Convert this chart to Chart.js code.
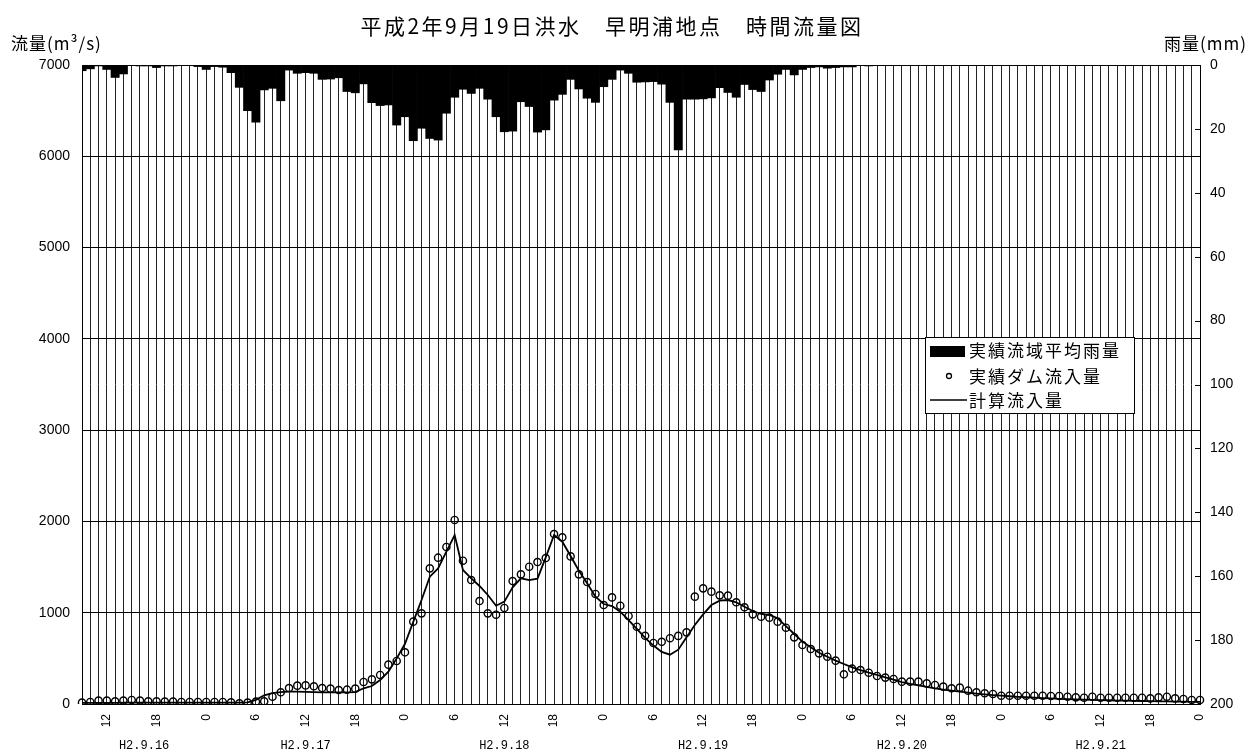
<!DOCTYPE html>
<html>
<head>
<meta charset="utf-8">
<script src="https://cdn.jsdelivr.net/npm/chart.js@4/dist/chart.umd.min.js"></script>
<style>
  html, body { margin: 0; padding: 0; background: #fff; }
</style>
</head>
<body>
<canvas id="chart" width="1248" height="756"></canvas>
<script>
// 平成2年9月19日洪水 早明浦地点 時間流量図
// hourly data, 9/16 9:00 -> 9/22 0:00 (136 points)

const startHour = 9;
const hourLabels = [];
for (let i = 0; i < 136; i++) hourLabels.push((startHour + i) % 24);

const dateLabels = ['H2.9.16', 'H2.9.17', 'H2.9.18', 'H2.9.19', 'H2.9.20', 'H2.9.21'];

// 実績流域平均雨量 (mm)
const rain = [
  1.8, 1.2, 0.3, 1.4, 3.9, 2.8, 0, 0.3, 0.3, 0.8,
  0.3, 0.3, 0, 0, 0.5, 1.4, 0.5, 0.7, 2.4, 7.0,
  14.3, 17.9, 7.8, 7.3, 11.2, 1.6, 2.6, 2.4, 2.6, 4.5,
  4.4, 4.0, 8.3, 8.7, 5.9, 11.8, 12.7, 12.5, 18.8, 16.2,
  23.7, 19.8, 23.0, 23.5, 15.1, 10.1, 7.6, 8.9, 7.3, 10.7,
  16.2, 20.9, 20.7, 11.5, 13.0, 21.0, 20.3, 11.0, 9.2, 4.5,
  7.5, 10.4, 11.7, 6.8, 4.5, 1.6, 2.6, 5.4, 5.3, 5.2,
  6.0, 11.7, 26.6, 10.7, 10.7, 10.6, 10.3, 7.1, 8.6, 10.1,
  6.1, 7.7, 8.3, 4.7, 2.9, 1.4, 3.1, 1.4, 0.8, 0.6,
  1.0, 0.8, 0.6, 0.6, 0, 0.3, 0, 0, 0, 0,
  0, 0, 0, 0, 0, 0, 0, 0, 0, 0,
  0, 0, 0, 0, 0, 0, 0, 0, 0, 0,
  0, 0, 0, 0, 0, 0, 0, 0, 0, 0,
  0, 0, 0, 0, 0, 0
];

// 実績ダム流入量 (m3/s)
const obsFlow = [
  15, 22, 37, 37, 29, 37, 44, 37, 29, 29,
  26, 26, 22, 22, 22, 22, 22, 22, 18, 7,
  15, 26, 29, 80, 128, 175, 201, 204, 194, 175,
  168, 153, 157, 168, 241, 270, 318, 431, 471, 566,
  902, 993, 1486, 1603, 1720, 2016, 1570, 1358, 1128, 993,
  978, 1052, 1347, 1420, 1504, 1555, 1599, 1862, 1826, 1617,
  1420, 1336, 1205, 1084, 1168, 1077, 964, 847, 747, 668,
  681, 721, 746, 785, 1176, 1267, 1231, 1190, 1187, 1114,
  1059, 982, 956, 946, 902, 836, 730, 646, 602, 555,
  518, 475, 325, 387, 372, 343, 307, 289, 274, 245,
  245, 245, 226, 208, 190, 172, 179, 146, 128, 117,
  110, 91, 91, 91, 91, 91, 91, 88, 88, 80,
  73, 69, 80, 69, 69, 69, 69, 69, 69, 62,
  73, 80, 62, 55, 44, 44
];

// 計算流入量 (m3/s)
const calcFlow = [
  12, 12, 13, 13, 13, 14, 14, 14, 14, 14,
  14, 14, 14, 14, 14, 14, 14, 14, 14, 15,
  18, 45, 95, 120, 130, 135, 135, 132, 130, 128,
  128, 128, 128, 130, 172, 197, 263, 354, 500, 660,
  900, 1139, 1395, 1486, 1669, 1851, 1468, 1377, 1293, 1194,
  1077, 1121, 1278, 1377, 1358, 1373, 1607, 1851, 1778, 1621,
  1460, 1322, 1176, 1095, 1073, 1011, 920, 822, 725, 640,
  570, 540, 595, 730, 865, 982, 1084, 1132, 1139, 1114,
  1066, 1019, 986, 975, 939, 854, 767, 683, 621, 562,
  518, 475, 438, 402, 372, 343, 318, 292, 268, 240,
  220, 203, 187, 172, 158, 146, 135, 124, 114, 106,
  98, 91, 85, 79, 74, 69, 65, 61, 57, 54,
  51, 48, 45, 43, 41, 38, 36, 34, 33, 31,
  29, 28, 26, 25, 24, 23
];

const titleText = '平成2年9月19日洪水　早明浦地点　時間流量図';
const leftUnit = '流量(m³/s)';
const rightUnit = '雨量(mm)';

const cjk = '"Noto Sans CJK JP", "Noto Sans", sans-serif';

const decor = {
  id: 'decor',
  afterDraw(chart) {
    const c = chart.ctx;
    const area = chart.chartArea;
    const x = chart.scales.x;
    const y2 = chart.scales.y2;
    c.save();

    // title + unit labels
    c.fillStyle = '#000';
    c.textBaseline = 'middle';
    c.font = '21px ' + cjk;
    c.letterSpacing = '2.5px';
    c.textAlign = 'center';
    c.fillText(titleText, 612, 26);
    c.font = '17px ' + cjk;
    c.letterSpacing = '1px';
    c.textAlign = 'left';
    c.fillText(leftUnit, 11, 44);
    c.textAlign = 'right';
    c.fillText(rightUnit, 1247, 44);
    c.letterSpacing = '0px';

    // inward ticks on the rain axis
    c.strokeStyle = '#000';
    c.lineWidth = 1;
    for (let v = 0; v <= 200; v += 20) {
      const py = Math.round(y2.getPixelForValue(v)) + 0.5;
      c.beginPath();
      c.moveTo(area.right - 5, py);
      c.lineTo(area.right, py);
      c.stroke();
    }

    // date labels under the hour ticks, centred on each day's visible span
    c.font = '12px "Liberation Mono", monospace';
    c.textAlign = 'center';
    const dayStarts = [0];
    hourLabels.forEach((h, i) => { if (h === 0 && i > 0) dayStarts.push(i); });
    dateLabels.forEach((lab, d) => {
      const a = dayStarts[d], b = dayStarts[d + 1] !== undefined ? dayStarts[d + 1] : hourLabels.length - 1;
      const px = (x.getPixelForValue(a) + x.getPixelForValue(b)) / 2;
      c.fillText(lab, px, 746);
    });

    // legend
    const lx = 925, ly = 337, lw = 209, lh = 76;
    c.fillStyle = '#fff';
    c.fillRect(lx, ly, lw, lh);
    c.strokeStyle = '#000';
    c.lineWidth = 1;
    c.strokeRect(lx + 0.5, ly + 0.5, lw, lh);
    c.fillStyle = '#000';
    c.fillRect(930, 346, 35, 11);
    c.beginPath();
    c.arc(949, 376, 2.5, 0, Math.PI * 2);
    c.lineWidth = 1.3;
    c.stroke();
    c.beginPath();
    c.moveTo(930, 400);
    c.lineTo(967, 400);
    c.lineWidth = 1.3;
    c.stroke();
    c.font = '17px ' + cjk;
    c.letterSpacing = '2px';
    c.textAlign = 'left';
    const names = chart.data.datasets.map(ds => ds.label);
    c.fillText(names[2], 969, 351);
    c.fillText(names[1], 969, 377);
    c.fillText(names[0], 969, 401);
    c.restore();
  }
};

const tickFont = { family: '"Liberation Sans", Arial, sans-serif', size: 14 };

new Chart(document.getElementById('chart').getContext('2d'), {
  type: 'bar',
  data: {
    labels: hourLabels,
    datasets: [
      {
        type: 'line', label: '計算流入量', data: calcFlow, yAxisID: 'y',
        borderColor: '#000', borderWidth: 1.8, pointRadius: 0, tension: 0, order: 1
      },
      {
        type: 'line', label: '実績ダム流入量', data: obsFlow, yAxisID: 'y',
        showLine: false, pointRadius: 3.6, pointBorderWidth: 1.4,
        pointBorderColor: '#000', pointBackgroundColor: 'rgba(0,0,0,0)', order: 0
      },
      {
        type: 'bar', label: '実績流域平均雨量', data: rain, yAxisID: 'y2',
        backgroundColor: '#000', barPercentage: 1, categoryPercentage: 1, order: 2
      }
    ]
  },
  options: {
    responsive: false,
    animation: false,
    layout: { padding: { top: 65, left: 0, right: 0, bottom: 0 } },
    plugins: { legend: { display: false }, tooltip: { enabled: false } },
    scales: {
      x: {
        offset: false,
        grid: { color: '#222', lineWidth: 1, drawTicks: false, offset: false },
        border: { color: '#000' },
        ticks: {
          autoSkip: false, maxRotation: 90, minRotation: 90, padding: 10,
          color: '#000', font: { family: '"Liberation Sans", Arial, sans-serif', size: 12 },
          callback: (v, i) => hourLabels[i] % 6 === 0 ? String(hourLabels[i]) : ''
        },
        afterFit: s => { s.height = 52; }
      },
      y: {
        position: 'left', min: 0, max: 7000,
        ticks: { stepSize: 1000, padding: 12, color: '#000', font: tickFont, callback: v => String(v) },
        grid: { color: '#000', drawTicks: false },
        border: { color: '#000' },
        afterFit: s => { s.width = 82; }
      },
      y2: {
        position: 'right', reverse: true, min: 0, max: 200,
        ticks: { stepSize: 20, padding: 10, color: '#000', font: tickFont, callback: v => String(v) },
        grid: { drawOnChartArea: false, drawTicks: false },
        border: { color: '#000' },
        afterFit: s => { s.width = 48; }
      }
    }
  },
  plugins: [decor]
});
</script>
</body>
</html>
